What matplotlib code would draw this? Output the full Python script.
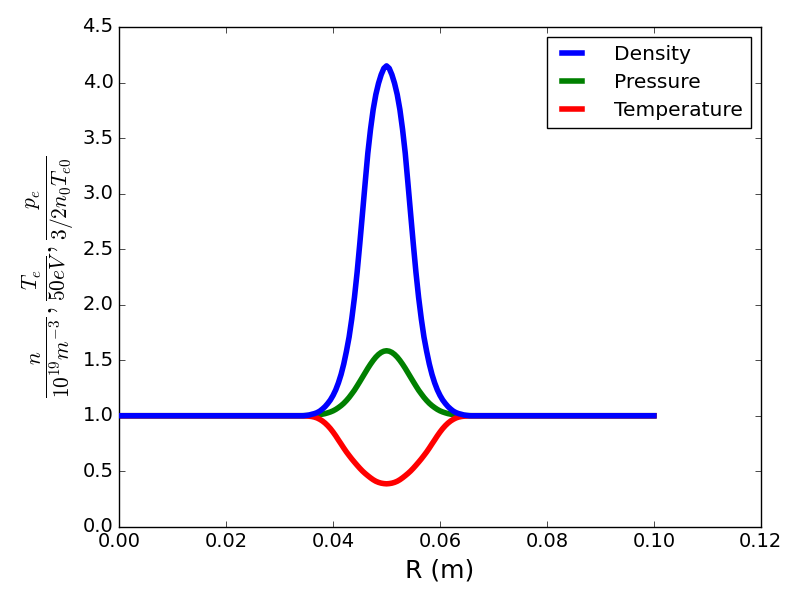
import matplotlib
matplotlib.use('Agg')
import matplotlib.pyplot as plt
import numpy as np

plt.style.use('classic')

# radius samples (m): flat ends plus a 0.0005 m grid over the bump
R = np.concatenate([[0.0], np.linspace(0.034, 0.066, 65), [0.1]])

density = [1.0,
           1.0, 1.0, 1.003, 1.006, 1.013, 1.019, 1.028, 1.041, 1.060,
           1.082, 1.110, 1.142, 1.183, 1.233, 1.296, 1.372, 1.466, 1.580,
           1.709, 1.873, 2.065, 2.292, 2.550, 2.821, 3.095, 3.363, 3.577,
           3.756, 3.892, 3.993, 4.071, 4.128,
           4.150,
           4.128, 4.071, 3.993, 3.892, 3.756, 3.577, 3.363, 3.095, 2.821,
           2.550, 2.292, 2.065, 1.873, 1.709, 1.580, 1.466, 1.372, 1.296,
           1.233, 1.183, 1.142, 1.110, 1.082, 1.060, 1.041, 1.028, 1.019,
           1.013, 1.006, 1.003, 1.0, 1.0,
           1.0]

pressure = [1.0,
            1.0, 1.001, 1.001, 1.002, 1.003, 1.005, 1.007, 1.010, 1.014,
            1.019, 1.026, 1.034, 1.044, 1.057, 1.073, 1.091, 1.112, 1.137,
            1.165, 1.197, 1.230, 1.268, 1.307, 1.347, 1.387, 1.427, 1.464,
            1.498, 1.528, 1.552, 1.570, 1.581,
            1.585,
            1.581, 1.570, 1.552, 1.528, 1.498, 1.464, 1.427, 1.387, 1.347,
            1.307, 1.268, 1.230, 1.197, 1.165, 1.137, 1.112, 1.091, 1.073,
            1.057, 1.044, 1.034, 1.026, 1.019, 1.014, 1.010, 1.007, 1.005,
            1.003, 1.002, 1.001, 1.001, 1.0,
            1.0]

temperature = [1.0,
               1.0, 0.999, 0.998, 0.996, 0.993, 0.988, 0.980, 0.968, 0.953,
               0.934, 0.911, 0.884, 0.853, 0.819, 0.782, 0.746, 0.709, 0.674,
               0.642, 0.611, 0.582, 0.554, 0.527, 0.502, 0.480, 0.460, 0.441,
               0.424, 0.410, 0.400, 0.393, 0.389,
               0.387,
               0.389, 0.393, 0.400, 0.410, 0.424, 0.441, 0.460, 0.480, 0.502,
               0.527, 0.554, 0.582, 0.611, 0.642, 0.674, 0.709, 0.746, 0.782,
               0.819, 0.853, 0.884, 0.911, 0.934, 0.953, 0.968, 0.980, 0.988,
               0.993, 0.996, 0.998, 0.999, 1.0,
               1.0]


def main():
    fig, ax = plt.subplots(figsize=(8, 6), dpi=100)
    fig.subplots_adjust(left=0.149, right=0.951, bottom=0.122, top=0.955)

    ax.plot(R, density, color='b', lw=4, label='Density', zorder=3)
    ax.plot(R, pressure, color='g', lw=4, label='Pressure', zorder=2)
    ax.plot(R, temperature, color='r', lw=4, label='Temperature', zorder=2)

    ax.set_xlim(0, 0.12)
    ax.set_ylim(0, 4.5)
    ax.tick_params(labelsize=14)
    ax.set_xlabel('R (m)', fontsize=18)
    ax.set_ylabel(r'$\frac{n}{10^{19}m^{-3}}, \frac{T_e}{50eV}, '
                  r'\frac{p_e}{3/2n_0T_{e0}}$', fontsize=22)
    ax.legend(loc='upper right', fontsize=14.6, handlelength=1.6,
              handletextpad=1.27, labelspacing=0.44)

    fig.savefig('out.png', dpi=100)


if __name__ == '__main__':
    main()
